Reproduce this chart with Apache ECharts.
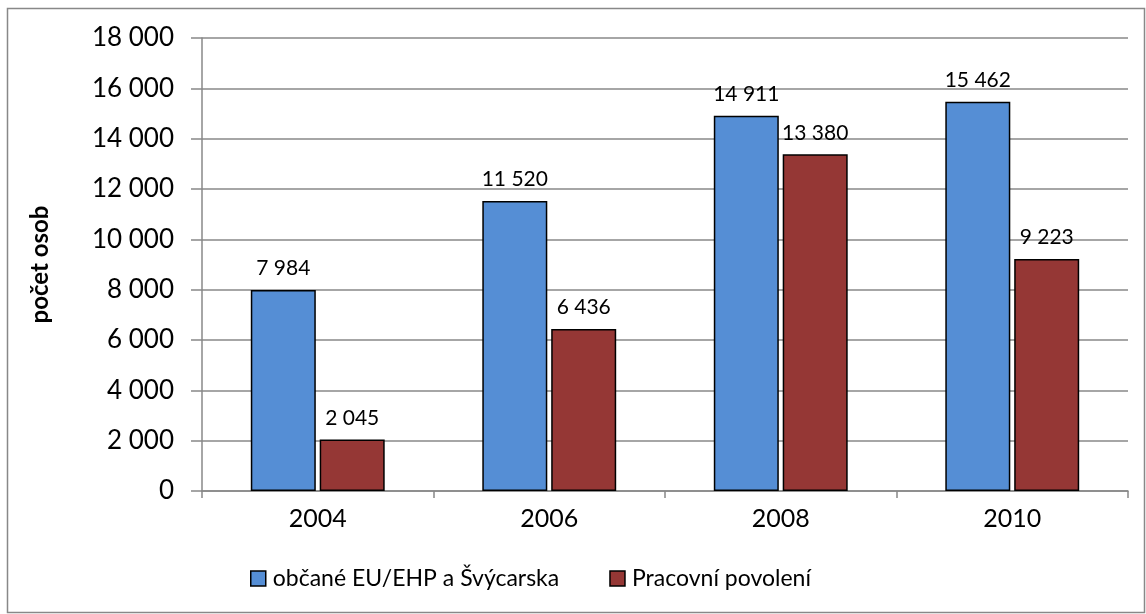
<!DOCTYPE html>
<html>
<head>
<meta charset="utf-8">
<script src="https://cdn.jsdelivr.net/npm/echarts@6/dist/echarts.min.js"></script>
<style>
  html, body { margin: 0; padding: 0; background: #fff; }
  #chart { width: 1146px; height: 614px; }
</style>
</head>
<body>
<div id="chart"></div>
<script>
// kategorie a hodnoty
const years = ['2004', '2006', '2008', '2010']
const obcaneEU = [7984, 11520, 14911, 15462]
const pracovniPovoleni = [2045, 6436, 13380, 9223]
const seriesNames = ['občané EU/EHP a Švýcarska', 'Pracovní povolení']

const fontFam = 'Lato, "Open Sans", sans-serif'
// formát čísel s mezerou jako oddělovačem tisíců
const fmt = v => String(v).replace(/\B(?=(\d{3})+(?!\d))/g, ' ')

const chart = echarts.init(document.getElementById('chart'))

const barStyle = color => ({
  color: color,
  borderColor: '#000',
  borderWidth: 1.5
})

const labelStyle = {
  show: true,
  position: 'top',
  distance: 11,
  color: '#000',
  fontSize: 21,
  fontFamily: fontFam,
  formatter: p => fmt(p.value)
}

chart.setOption({
  animation: false,
  textStyle: { fontFamily: fontFam },
  graphic: [{
    type: 'rect',
    shape: { x: 7.5, y: 8.5, width: 1137, height: 604 },
    style: { fill: 'none', stroke: '#888', lineWidth: 1.5 },
    silent: true
  }],
  grid: {
    left: 202,
    right: 18,
    top: 38,
    bottom: 123
  },
  legend: {
    data: seriesNames,
    top: 567,
    left: 250,
    padding: 0,
    itemWidth: 15,
    itemHeight: 15,
    itemGap: 50,
    icon: 'rect',
    itemStyle: { borderColor: '#000', borderWidth: 1.5 },
    textStyle: { fontSize: 23, color: '#000', fontFamily: fontFam, padding: [0, 0, 0, 2] }
  },
  xAxis: {
    type: 'category',
    data: years,
    axisLine: { lineStyle: { color: '#888', width: 1.5 } },
    axisTick: { show: true, length: 7, lineStyle: { color: '#888', width: 1.5 } },
    axisLabel: { fontSize: 25, color: '#000', margin: 15, fontFamily: fontFam }
  },
  yAxis: {
    type: 'value',
    min: 0,
    max: 18000,
    interval: 2000,
    name: 'počet osob',
    nameLocation: 'middle',
    nameGap: 150,
    nameTextStyle: { fontSize: 24, fontWeight: 'bold', color: '#000', fontFamily: fontFam },
    axisLine: { show: true, lineStyle: { color: '#888', width: 1.5 } },
    axisTick: { show: true, length: 11, inside: false, lineStyle: { color: '#888', width: 1.5 } },
    axisLabel: { fontSize: 26, color: '#000', margin: 28, fontFamily: fontFam, formatter: v => fmt(v) },
    splitLine: { lineStyle: { color: '#888', width: 1.5 } }
  },
  series: [
    {
      name: seriesNames[0],
      type: 'bar',
      data: obcaneEU,
      barWidth: 65,
      barGap: '6%',
      itemStyle: barStyle('#558ED5'),
      label: labelStyle
    },
    {
      name: seriesNames[1],
      type: 'bar',
      data: pracovniPovoleni,
      barWidth: 65,
      itemStyle: barStyle('#953735'),
      label: labelStyle
    }
  ]
})
</script>
</body>
</html>
